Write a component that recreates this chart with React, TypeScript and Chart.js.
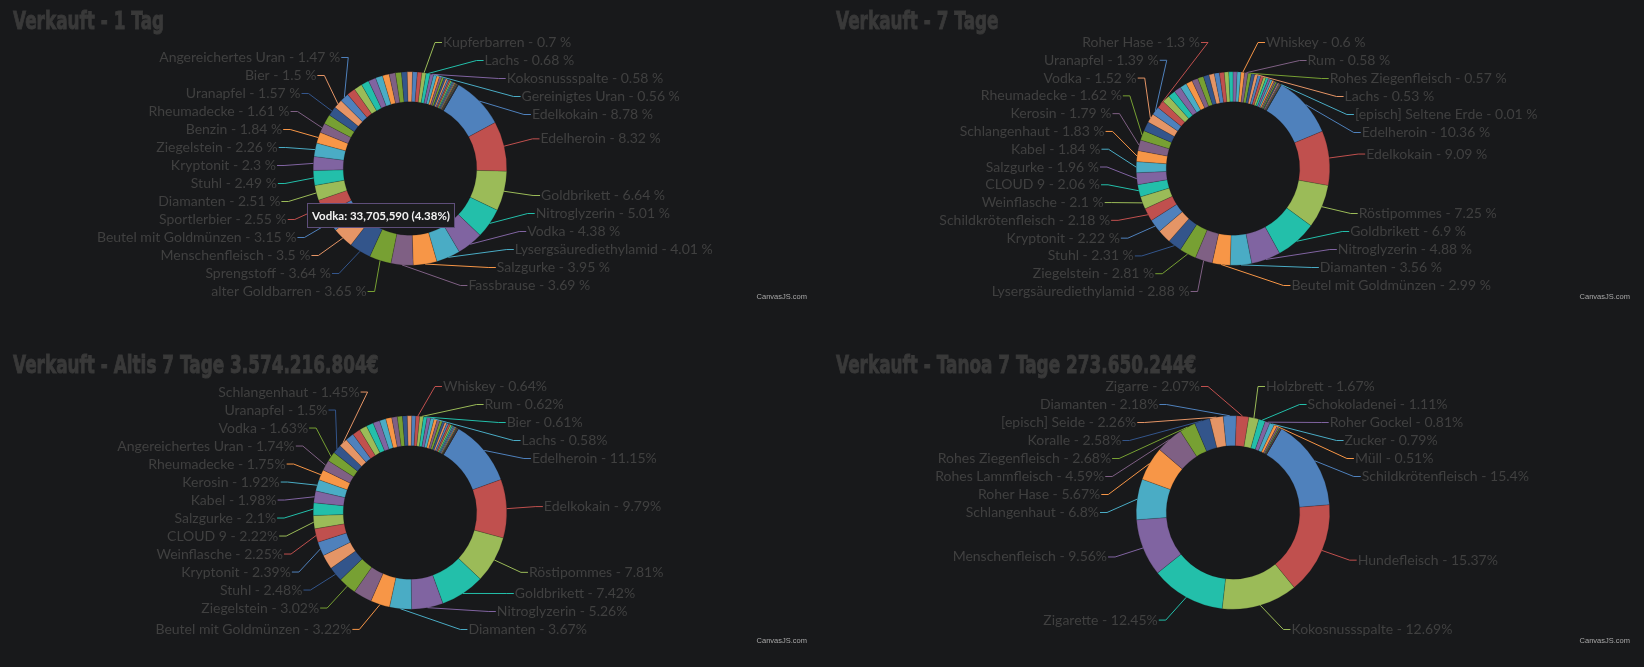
import React, { useEffect, useRef } from "react";
import { Chart, registerables } from "chart.js";

Chart.register(...registerables);

// CanvasJS colorSet1
const PALETTE = ["#4F81BC", "#C0504E", "#9BBB58", "#23BFAA", "#8064A1", "#4AACC5", "#F79647", "#7F6084", "#77A033", "#33558B", "#E59566"];

// ---------- Verkauft - 1 Tag ----------
const tag1Names = [
  "Edelkokain", "Edelheroin", "Goldbrikett", "Nitroglyzerin", "Vodka", "Lysergsäurediethylamid", "Salzgurke", "Fassbrause",
  "alter Goldbarren", "Sprengstoff", "Menschenfleisch", "Beutel mit Goldmünzen", "Sportlerbier", "Diamanten", "Stuhl", "Kryptonit",
  "Ziegelstein", "Benzin", "Rheumadecke", "", "Uranapfel", "Bier", "Angereichertes Uran",
  "", "", "", "", "", "", "", "", "", "", "", "",
  "Kupferbarren", "Lachs", "Kokosnussspalte", "Gereinigtes Uran",
  "", "", "", "", "", "", "", "", "", "", "", "", "", "", "", "", "", "", "", "", "", "",
];
const tag1Values = [
  8.78, 8.32, 6.64, 5.01, 4.38, 4.01, 3.95, 3.69,
  3.65, 3.64, 3.5, 3.15, 2.55, 2.51, 2.49, 2.3,
  2.26, 1.84, 1.61, 1.6, 1.57, 1.5, 1.47,
  1.42, 1.38, 1.3, 1.25, 1.2, 1.12, 1.05, 1.0, 0.95, 0.88, 0.8, 0.75,
  0.7, 0.68, 0.58, 0.56,
  0.45, 0.4, 0.36, 0.32, 0.3, 0.27, 0.25, 0.22, 0.2, 0.18, 0.16, 0.14, 0.12, 0.1, 0.08, 0.07, 0.06, 0.05, 0.04, 0.03, 0.02, 0.01,
];
const tag1TooltipIndex = 4;
const tag1TooltipAmount = 33705590;

// ---------- Verkauft - 7 Tage ----------
const tage7Names = [
  "Edelheroin", "Edelkokain", "Röstipommes", "Goldbrikett", "Nitroglyzerin", "Diamanten", "Beutel mit Goldmünzen", "Lysergsäurediethylamid",
  "Ziegelstein", "Stuhl", "", "Kryptonit", "Schildkrötenfleisch", "Weinflasche", "CLOUD 9", "Salzgurke",
  "Kabel", "Schlangenhaut", "Kerosin", "Rheumadecke", "", "Vodka", "Uranapfel", "Roher Hase",
  "", "", "", "", "", "", "", "", "", "", "", "", "", "", "",
  "Whiskey", "Rum", "Rohes Ziegenfleisch", "", "Lachs",
  "", "", "", "", "", "", "", "", "", "", "", "", "", "", "", "",
  "[episch] Seltene Erde",
];
const tage7Values = [
  10.36, 9.09, 7.25, 6.9, 4.88, 3.56, 2.99, 2.88,
  2.81, 2.31, 2.27, 2.22, 2.18, 2.1, 2.06, 1.96,
  1.84, 1.83, 1.79, 1.62, 1.56, 1.52, 1.39, 1.3,
  1.27, 1.22, 1.18, 1.12, 1.07, 1.02, 0.98, 0.94, 0.9, 0.85, 0.8, 0.75, 0.71, 0.67, 0.63,
  0.6, 0.58, 0.57, 0.55, 0.53,
  0.5, 0.47, 0.44, 0.4, 0.37, 0.34, 0.3, 0.27, 0.24, 0.21, 0.18, 0.15, 0.12, 0.09, 0.05, 0.03,
  0.01,
];

// ---------- Verkauft - Altis 7 Tage ----------
const altisNames = [
  "Edelheroin", "Edelkokain", "Röstipommes", "Goldbrikett", "Nitroglyzerin", "Diamanten", "Beutel mit Goldmünzen", "",
  "Ziegelstein", "Stuhl", "", "Kryptonit", "Weinflasche", "CLOUD 9", "Salzgurke", "Kabel",
  "Kerosin", "Rheumadecke", "Angereichertes Uran", "Vodka", "Uranapfel", "Schlangenhaut",
  "", "", "", "", "", "", "", "", "", "", "", "",
  "Whiskey", "Rum", "Bier", "", "Lachs",
  "", "", "", "", "", "", "", "", "", "", "", "", "", "", "", "", "", "", "",
];
const altisValues = [
  11.15, 9.79, 7.81, 7.42, 5.26, 3.67, 3.22, 3.1,
  3.02, 2.48, 2.44, 2.39, 2.25, 2.22, 2.1, 1.98,
  1.92, 1.75, 1.74, 1.63, 1.5, 1.45,
  1.4, 1.34, 1.27, 1.2, 1.13, 1.06, 1.0, 0.93, 0.86, 0.8, 0.74, 0.68,
  0.64, 0.62, 0.61, 0.6, 0.58,
  0.52, 0.48, 0.44, 0.4, 0.36, 0.33, 0.3, 0.27, 0.24, 0.21, 0.18, 0.15, 0.12, 0.1, 0.08, 0.06, 0.04, 0.02, 0.01,
];

// ---------- Verkauft - Tanoa 7 Tage ----------
const tanoaNames = [
  "Schildkrötenfleisch", "Hundefleisch", "Kokosnussspalte", "Zigarette", "Menschenfleisch", "Schlangenhaut", "Roher Hase", "Rohes Lammfleisch",
  "Rohes Ziegenfleisch", "Koralle", "[episch] Seide", "Diamanten", "Zigarre", "Holzbrett", "Schokoladenei", "Roher Gockel",
  "Zucker", "Müll",
  "", "", "", "", "", "", "",
];
const tanoaValues = [
  15.4, 15.37, 12.69, 12.45, 9.56, 6.8, 5.67, 4.59,
  2.68, 2.58, 2.26, 2.18, 2.07, 1.67, 1.11, 0.81,
  0.79, 0.51,
  0.3, 0.2, 0.13, 0.09, 0.05, 0.03, 0.01,
];

const titles = [
  "Verkauft - 1 Tag",
  "Verkauft - 7 Tage",
  "Verkauft - Altis 7 Tage 3.574.216.804€",
  "Verkauft - Tanoa 7 Tage 273.650.244€",
];

// ---------- layout / style ----------
const BG = "#18191b";
const LABEL_COLOR = "#404040";
const TITLE_COLOR = "#393939";
const CANVAS_W = 821;
const CANVAS_H = 340;
const CX = 410;
const CY = 168.5;
const RAD = 97;
const LABEL_A = 134; // horizontal semi-axis for label anchors
const LABEL_B = 130; // vertical semi-axis for label anchors
const LABEL_RV = 124; // vertical radius used for the preferred label height
const GAP = 18;

type Panel = {
  title: string;
  names: string[];
  values: number[];
  sep: string;
  splitTop: number;
  left: number;
  top: number;
  tooltip?: { index: number; amount: number };
};

const panels: Panel[] = [
  { title: titles[0], names: tag1Names, values: tag1Values, sep: " %", splitTop: 0, left: 0, top: 0, tooltip: { index: tag1TooltipIndex, amount: tag1TooltipAmount } },
  { title: titles[1], names: tage7Names, values: tage7Values, sep: " %", splitTop: 0, left: 823, top: 0 },
  { title: titles[2], names: altisNames, values: altisValues, sep: "%", splitTop: 0, left: 0, top: 344 },
  { title: titles[3], names: tanoaNames, values: tanoaValues, sep: "%", splitTop: 9, left: 823, top: 344 },
];

type Item = { i: number; mid: number; deg: number; want: number; y: number; right: boolean };

// cluster-based label de-overlap: overlapping labels are merged into groups centred on their desired mean
function spreadLabels(list: Item[], minY: number, maxY: number) {
  type Cl = { items: Item[]; top: number; gap: number };
  const place = (c: Cl) => {
    const n = c.items.length;
    const gap = n > 1 ? Math.min(GAP, (maxY - minY) / (n - 1)) : GAP;
    const mean = c.items.reduce((s, it) => s + it.want, 0) / n;
    let top = mean - ((n - 1) * gap) / 2;
    top = Math.min(top, maxY - (n - 1) * gap);
    top = Math.max(top, minY);
    c.top = top;
    c.gap = gap;
  };
  const cls: Cl[] = list.map((it) => {
    const c = { items: [it], top: 0, gap: GAP };
    place(c);
    return c;
  });
  let changed = true;
  while (changed) {
    changed = false;
    for (let k = 0; k < cls.length - 1; k++) {
      const a = cls[k];
      const b = cls[k + 1];
      if (a.top + (a.items.length - 1) * a.gap + GAP > b.top + 0.01) {
        const m = { items: a.items.concat(b.items), top: 0, gap: GAP };
        place(m);
        cls.splice(k, 2, m);
        changed = true;
        break;
      }
    }
  }
  for (const c of cls) c.items.forEach((it, k) => (it.y = c.top + k * c.gap));
}

function makePlugin(p: Panel) {
  return {
    id: "outLabels",
    afterDraw(chart: any) {
      const ctx: CanvasRenderingContext2D = chart.ctx;
      const meta = chart.getDatasetMeta(0);
      const arcs: any[] = meta.data;
      if (!arcs.length) return;
      const cx = arcs[0].x;
      const cy = arcs[0].y;
      const ro = arcs[0].outerRadius;
      const colors: string[] = chart.data.datasets[0].backgroundColor;

      const items: Item[] = [];
      arcs.forEach((arc: any, i: number) => {
        if (!p.names[i]) return;
        const mid = (arc.startAngle + arc.endAngle) / 2;
        let deg = (mid * 180) / Math.PI + 90;
        while (deg < p.splitTop) deg += 360;
        while (deg >= p.splitTop + 360) deg -= 360;
        const right = deg < 190;
        const want = cy - LABEL_RV * Math.cos((deg * Math.PI) / 180) - 1;
        items.push({ i, mid, deg, want, y: want, right });
      });

      const rightList = items.filter((it) => it.right).sort((a, b) => a.deg - b.deg);
      const leftList = items.filter((it) => !it.right).sort((a, b) => b.deg - a.deg);
      spreadLabels(rightList, cy - 126, cy + 117);
      spreadLabels(leftList, cy - 126, cy + 123);

      ctx.save();
      ctx.font = "14px Lato";
      ctx.textBaseline = "middle";
      for (const it of items) {
        const dy = it.y - cy;
        const t = 1 - (dy / LABEL_B) * (dy / LABEL_B);
        const dx = Math.max(24, LABEL_A * Math.sqrt(Math.max(0, t)));
        const ax = it.right ? cx + dx : cx - dx;
        const ex = it.right ? ax - 8 : ax + 8;
        const sx = cx + ro * Math.cos(it.mid);
        const sy = cy + ro * Math.sin(it.mid);
        ctx.strokeStyle = colors[it.i];
        ctx.lineWidth = 1;
        ctx.beginPath();
        ctx.moveTo(sx, sy);
        ctx.lineTo(ex, it.y);
        ctx.lineTo(it.right ? ax - 1 : ax + 1, it.y);
        ctx.stroke();
        ctx.fillStyle = LABEL_COLOR;
        ctx.textAlign = it.right ? "left" : "right";
        ctx.fillText(`${p.names[it.i]} - ${p.values[it.i]}${p.sep}`, ax, it.y);
      }

      // title (condensed heavy face)
      ctx.save();
      ctx.translate(13, 28.5);
      ctx.scale(0.675, 1);
      ctx.textAlign = "left";
      ctx.textBaseline = "alphabetic";
      ctx.fillStyle = TITLE_COLOR;
      ctx.strokeStyle = TITLE_COLOR;
      ctx.lineWidth = 1;
      ctx.font = "bold 25px 'DejaVu Sans', sans-serif";
      ctx.fillText(p.title, 0, 0);
      ctx.strokeText(p.title, 0, 0);
      ctx.restore();

      // credit
      ctx.font = "7.5px 'Liberation Sans', Arial, sans-serif";
      ctx.fillStyle = "#a8a8a8";
      ctx.textAlign = "right";
      ctx.textBaseline = "middle";
      ctx.fillText("CanvasJS.com", 807, 297);

      // tooltip
      if (p.tooltip) {
        const idx = p.tooltip.index;
        const head = `${p.names[idx]}:`;
        const body = ` ${p.tooltip.amount.toLocaleString("en-US")} (${p.values[idx]}%)`;
        ctx.font = "bold 11.5px Lato";
        const w1 = ctx.measureText(head).width;
        const w2 = ctx.measureText(body).width;
        const bx = Math.round(cx - 103) + 0.5;
        const by = Math.round(cy + 34) + 0.5;
        const bw = Math.round(w1 + w2 + 9);
        const bh = 24;
        ctx.fillStyle = "#1b1c1e";
        ctx.fillRect(bx, by, bw, bh);
        ctx.strokeStyle = "#5e4e7a";
        ctx.lineWidth = 1;
        ctx.strokeRect(bx, by, bw, bh);
        ctx.textAlign = "left";
        ctx.fillStyle = "#f2f2f2";
        ctx.fillText(head, bx + 4.5, by + bh / 2 + 0.5);
        ctx.fillText(body, bx + 4.5 + w1, by + bh / 2 + 0.5);
      }
      ctx.restore();
    },
  };
}

function DoughnutPanel({ p }: { p: Panel }) {
  const ref = useRef<HTMLCanvasElement | null>(null);
  useEffect(() => {
    if (!ref.current) return;
    const chart = new Chart(ref.current, {
      type: "doughnut",
      data: {
        labels: p.names,
        datasets: [
          {
            data: p.values,
            backgroundColor: p.values.map((_, i) => PALETTE[i % PALETTE.length]),
            borderColor: "rgba(15,15,15,0.35)",
            borderWidth: 0.5,
            hoverOffset: 0,
            offset: 0,
          } as any,
        ],
      },
      options: {
        responsive: false,
        animation: false,
        devicePixelRatio: 1,
        events: [],
        rotation: 30,
        cutout: "69%",
        layout: {
          padding: { left: CX - RAD, right: CANVAS_W - CX - RAD, top: CY - RAD, bottom: CANVAS_H - CY - RAD },
        },
        plugins: { legend: { display: false }, tooltip: { enabled: false }, title: { display: false } },
      } as any,
      plugins: [makePlugin(p) as any],
    });
    return () => chart.destroy();
  }, [p]);
  return (
    <div style={{ position: "absolute", left: p.left, top: p.top, width: CANVAS_W, height: CANVAS_H }}>
      <canvas ref={ref} width={CANVAS_W} height={CANVAS_H} style={{ display: "block" }} />
    </div>
  );
}

export default function App() {
  useEffect(() => {
    document.body.style.margin = "0";
    document.body.style.background = BG;
    document.documentElement.style.background = BG;
  }, []);
  return (
    <div style={{ position: "relative", width: 1644, height: 667, background: BG, overflow: "hidden" }}>
      {panels.map((p, k) => (
        <DoughnutPanel key={k} p={p} />
      ))}
    </div>
  );
}
